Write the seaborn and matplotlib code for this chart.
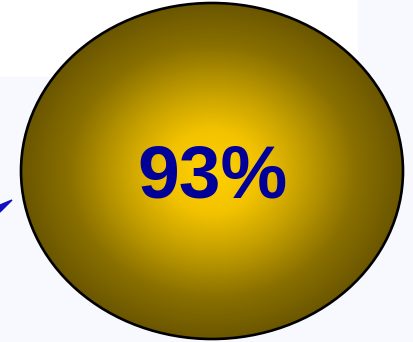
import numpy as np
import matplotlib
matplotlib.use("Agg")
import matplotlib.pyplot as plt
from matplotlib.patches import Ellipse, Rectangle, Polygon
import seaborn as sns

# data
labels = ["93%"]
values = [93]

sns.set_style("white")
plt.rcParams['font.family'] = ['Liberation Sans', 'DejaVu Sans']

W, H = 414, 342
fig = plt.figure(figsize=(W / 100, H / 100), dpi=100)
ax = fig.add_axes([0, 0, 1, 1])
ax.set_xlim(0, W)
ax.set_ylim(H, 0)
ax.axis('off')

# faint backdrop panels
panel = '#f8f9fe'
ax.add_patch(Rectangle((0, 77), 358, H - 77, color=panel, zorder=0))
ax.add_patch(Rectangle((358, 0), W - 358, H, color=panel, zorder=0))
ax.add_patch(Polygon([[0, 205], [12, 200], [0, 212]], closed=True,
                     color='#1010c0', zorder=1))

# golden gauge bubble
cx, cy, rx, ry = 212, 171, 191, 168
gold = sns.blend_palette(['#ffd200', '#f2c200', '#c09c00', '#8a7000', '#6a5600'],
                         as_cmap=True)
yy, xx = np.mgrid[0:H, 0:W]
r = np.sqrt(((xx - cx) / rx) ** 2 + ((yy - cy) / ry) ** 2)
img = ax.imshow(np.clip(r, 0, 1), cmap=gold, extent=[0, W, H, 0],
                vmin=0, vmax=1, zorder=2, interpolation='bilinear')
ell = Ellipse((cx, cy), 2 * rx, 2 * ry, facecolor='none',
              edgecolor='black', linewidth=1.9, zorder=3)
ax.add_patch(ell)
img.set_clip_path(ell)

ax.text(cx + 1, 178, labels[0], ha='center', va='center', fontsize=54,
        fontweight='bold', color='#000099', zorder=4)

fig.savefig('out.png', dpi=100)
